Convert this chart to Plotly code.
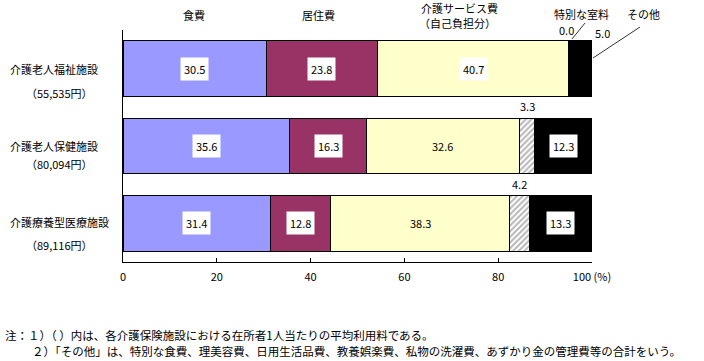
import plotly.graph_objects as go

facilities = ["介護老人福祉施設", "介護老人保健施設", "介護療養型医療施設"]
amounts = ["（55,535円）", "（80,094円）", "（89,116円）"]
series_names = ["食費", "居住費", "介護サービス費（自己負担分）", "特別な室料", "その他"]
food = [30.5, 35.6, 31.4]
housing = [23.8, 16.3, 12.8]
care = [40.7, 32.6, 38.3]
room = [0.0, 3.3, 4.2]
other = [5.0, 12.3, 13.3]
x_ticks = [0, 20, 40, 60, 80, 100]
x_ticktext = ["0", "20", "40", "60", "80", "100 (%)"]
notes = [
    "注：１）（ ）内は、各介護保険施設における在所者1人当たりの平均利用料である。",
    "２）「その他」は、特別な食費、理美容費、日用生活品費、教養娯楽費、私物の洗濯費、あずかり金の管理費等の合計をいう。",
]

FONT = "Noto Sans CJK JP"
W, H = 704, 361
L, R, T, B = 123, 592, 30, 262


def px(xp):
    return (xp - L) / (R - L)


def py(yp):
    return (B - yp) / (B - T)


series = [food, housing, care, room, other]
colors = ["#9999FF", "#993366", "#FFFFCC", "#FFFFFF", "#000000"]

fig = go.Figure()
for i, (name, vals, col) in enumerate(zip(series_names, series, colors)):
    marker = dict(color=col, line=dict(color="black", width=1))
    if i == 3:
        marker["pattern"] = dict(shape="/", fgcolor="#6E6E6E", bgcolor="#FFFFFF", size=4, solidity=0.5)
    fig.add_trace(go.Bar(
        y=list(range(len(facilities))), x=vals, name=name, orientation="h",
        marker=marker, width=0.72, showlegend=False, hoverinfo="skip",
    ))

annotations = []


def ann(**kw):
    kw.setdefault("showarrow", False)
    kw.setdefault("xanchor", "center")
    kw.setdefault("yanchor", "middle")
    kw.setdefault("font", dict(size=11, color="black"))
    annotations.append(kw)


# value labels
for ci in range(len(facilities)):
    start = 0.0
    for si, vals in enumerate(series):
        v = vals[ci]
        center = start + v / 2
        start += v
        txt = f"{v:.1f}"
        if si == 3:
            if ci == 0:
                ann(x=center, xref="x", y=py(30), yref="paper", text=txt, xshift=-2)
            else:
                ann(x=center, xref="x", y=ci - 0.5, yref="y", text=txt, yshift=1)
            continue
        if si == 4 and ci == 0:
            ann(x=center, xref="x", y=py(33), yref="paper", text=txt, xshift=22)
            continue
        box = si != 2 or ci == 0
        ann(x=center, xref="x", y=ci, yref="y", text=txt,
            bgcolor="white" if box else None, borderpad=3)

# category labels
name_y = [69, 146, 222]
amt_y = [93, 164, 245]
for name, amt, ny, ay in zip(facilities, amounts, name_y, amt_y):
    ann(x=px(8), y=py(ny), xref="paper", yref="paper", text=name, xanchor="left")
    ann(x=px(24), y=py(ay), xref="paper", yref="paper", text=amt, xanchor="left")

# header labels
headers = [("食費", 194, 15), ("居住費", 318, 15), ("介護サービス費", 459, 8),
           ("（自己負担分）", 457, 23), ("特別な室料", 581, 14), ("その他", 643, 14)]
for txt, hx, hy in headers:
    ann(x=px(hx), y=py(hy), xref="paper", yref="paper", text=txt)

# notes
ann(x=px(3), y=py(335), xref="paper", yref="paper", text=notes[0], xanchor="left",
    font=dict(size=11.5, color="black"))
ann(x=px(30), y=py(351), xref="paper", yref="paper", text=notes[1], xanchor="left",
    font=dict(size=11.5, color="black"))

shapes = [
    dict(type="line", xref="paper", yref="paper", x0=px(572), y0=py(39), x1=px(585), y1=py(23),
         line=dict(color="#333333", width=1)),
    dict(type="line", xref="paper", yref="paper", x0=px(593), y0=py(58), x1=px(640), y1=py(27),
         line=dict(color="#333333", width=1)),
]

fig.update_layout(
    barmode="stack",
    width=W, height=H,
    margin=dict(l=L, r=W - R, t=T, b=H - B, pad=0),
    paper_bgcolor="white", plot_bgcolor="white",
    font=dict(family=FONT, size=11, color="black"),
    annotations=annotations,
    shapes=shapes,
)
fig.update_xaxes(range=[0, 100], tickvals=x_ticks, ticktext=x_ticktext, ticks="inside",
                 ticklen=4, tickcolor="black", showline=True, linecolor="black", linewidth=1,
                 showgrid=False, zeroline=False, tickfont=dict(size=11, color="black"),
                 ticklabelstandoff=5, fixedrange=True)
fig.update_yaxes(range=[2.5, -0.5], showticklabels=False, showline=True, linecolor="black",
                 linewidth=1, showgrid=False, zeroline=False, ticks="", fixedrange=True)

fig.write_html("out.html", config={"displayModeBar": False},
               post_script="document.body.style.margin='0';document.body.style.overflow='hidden';")
